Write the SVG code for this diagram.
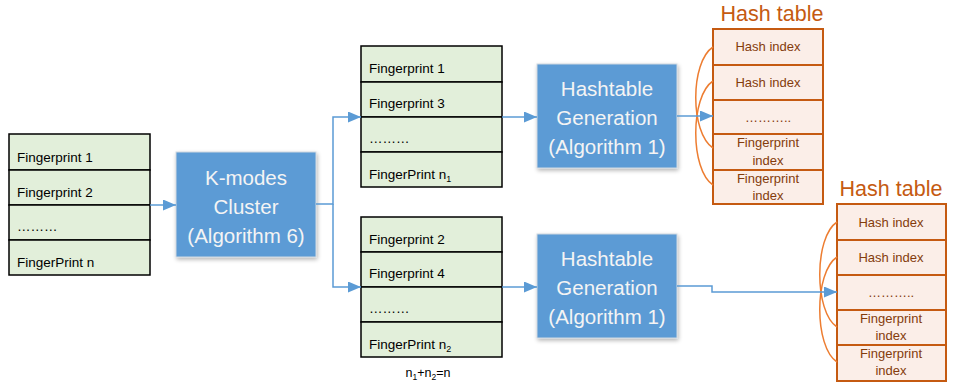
<svg xmlns="http://www.w3.org/2000/svg" width="953" height="386" viewBox="0 0 953 386">
  <defs>
    <marker id="arrow" viewBox="0 0 13 11" refX="13" refY="5.5" markerWidth="13" markerHeight="11" markerUnits="userSpaceOnUse" orient="auto">
      <path d="M0,0 L13,5.5 L0,11 Z" fill="#5B9BD5"/>
    </marker>
    <filter id="shadow" x="-10%" y="-10%" width="125%" height="130%">
      <feGaussianBlur in="SourceAlpha" stdDeviation="2"/>
      <feOffset dx="1" dy="2"/>
      <feComponentTransfer><feFuncA type="linear" slope="0.3"/></feComponentTransfer>
      <feMerge><feMergeNode/><feMergeNode in="SourceGraphic"/></feMerge>
    </filter>
  </defs>
  <style>
    .row { fill: #E2EFDA; stroke: #000; stroke-width: 1.5; }
    .rt { font-family: "Liberation Sans", Arial, sans-serif; font-size: 13.5px; fill: #000; }
    .proc { fill: #5B9BD5; stroke: #D0D8E0; stroke-width: 1; filter: url(#shadow); }
    .pt { font-family: "Liberation Sans", Arial, sans-serif; font-size: 20.5px; fill: #F4F4F4; text-anchor: middle; }
    .hrow { fill: #FBEEE8; stroke: #C55A11; stroke-width: 2; }
    .ht { font-family: "Liberation Sans", Arial, sans-serif; font-size: 13px; fill: #843C0C; text-anchor: middle; }
    .htitle { font-family: "Liberation Sans", Arial, sans-serif; font-size: 21.5px; fill: #C55A11; text-anchor: middle; }
    .arc { fill: none; stroke: #ED7D31; stroke-width: 1.5; }
    .conn { fill: none; stroke: #5B9BD5; stroke-width: 1.5; marker-end: url(#arrow); }
    .note { font-family: "Liberation Sans", Arial, sans-serif; font-size: 12.5px; fill: #000; text-anchor: middle; }
  </style>

  <!-- all fingerprints -->
  <g id="fingerprints-all">
    <rect class="row" x="9" y="134" width="141" height="36"/>
    <rect class="row" x="9" y="170" width="141" height="35"/>
    <rect class="row" x="9" y="205" width="141" height="35"/>
    <rect class="row" x="9" y="240" width="141" height="35"/>
    <text class="rt" x="17" y="162">Fingerprint 1</text>
    <text class="rt" x="17" y="197">Fingerprint 2</text>
    <text class="rt" x="17" y="231">………</text>
    <text class="rt" x="17" y="267">FingerPrint n</text>
  </g>

  <!-- clustering step -->
  <g id="kmodes">
    <rect class="proc" x="176" y="152" width="140" height="105"/>
    <text class="pt" x="246" y="185">K-modes</text>
    <text class="pt" x="246" y="214">Cluster</text>
    <text class="pt" x="246" y="243">(Algorithm 6)</text>
  </g>

  <!-- cluster 1 -->
  <g id="cluster1">
    <rect class="row" x="361" y="46" width="141" height="36"/>
    <rect class="row" x="361" y="82" width="141" height="35"/>
    <rect class="row" x="361" y="117" width="141" height="35"/>
    <rect class="row" x="361" y="152" width="141" height="35"/>
    <text class="rt" x="369" y="73">Fingerprint 1</text>
    <text class="rt" x="369" y="108">Fingerprint 3</text>
    <text class="rt" x="369" y="143">………</text>
    <text class="rt" x="369" y="179">FingerPrint n<tspan font-size="9" dy="3">1</tspan></text>
  </g>

  <!-- cluster 2 -->
  <g id="cluster2">
    <rect class="row" x="361" y="217" width="141" height="35"/>
    <rect class="row" x="361" y="252" width="141" height="35"/>
    <rect class="row" x="361" y="287" width="141" height="35"/>
    <rect class="row" x="361" y="322" width="141" height="35"/>
    <text class="rt" x="369" y="244">Fingerprint 2</text>
    <text class="rt" x="369" y="278">Fingerprint 4</text>
    <text class="rt" x="369" y="313">………</text>
    <text class="rt" x="369" y="349">FingerPrint n<tspan font-size="9" dy="3">2</tspan></text>
  </g>

  <text class="note" x="428" y="377">n<tspan font-size="8.5" dy="3">1</tspan><tspan dy="-3">+n</tspan><tspan font-size="8.5" dy="3">2</tspan><tspan dy="-3">=n</tspan></text>

  <!-- hashtable generation 1 -->
  <g id="hashgen1">
    <rect class="proc" x="537" y="64" width="140" height="104"/>
    <text class="pt" x="607" y="96">Hashtable</text>
    <text class="pt" x="607" y="125">Generation</text>
    <text class="pt" x="607" y="154">(Algorithm 1)</text>
  </g>

  <!-- hashtable generation 2 -->
  <g id="hashgen2">
    <rect class="proc" x="537" y="234" width="140" height="104"/>
    <text class="pt" x="607" y="266">Hashtable</text>
    <text class="pt" x="607" y="295">Generation</text>
    <text class="pt" x="607" y="324">(Algorithm 1)</text>
  </g>

  <!-- hash table 1 -->
  <g id="hashtable1">
    <text class="htitle" x="772" y="21">Hash table</text>
    <rect class="hrow" x="713" y="29" width="110" height="36"/>
    <rect class="hrow" x="713" y="65" width="110" height="35"/>
    <rect class="hrow" x="713" y="100" width="110" height="34"/>
    <rect class="hrow" x="713" y="134" width="110" height="36"/>
    <rect class="hrow" x="713" y="170" width="110" height="34"/>
    <text class="ht" x="768" y="51">Hash index</text>
    <text class="ht" x="768" y="87">Hash index</text>
    <text class="ht" x="768" y="122">………..</text>
    <text class="ht" x="768" y="147">Fingerprint</text>
    <text class="ht" x="768" y="165">index</text>
    <text class="ht" x="768" y="183">Fingerprint</text>
    <text class="ht" x="768" y="200">index</text>
    <path class="arc" d="M713,47 C690,62 690,133 713,148"/>
    <path class="arc" d="M713,81 C690,96 690,170 713,185"/>
  </g>

  <!-- hash table 2 -->
  <g id="hashtable2">
    <text class="htitle" x="891" y="196">Hash table</text>
    <rect class="hrow" x="837" y="204" width="109" height="36"/>
    <rect class="hrow" x="837" y="240" width="109" height="35"/>
    <rect class="hrow" x="837" y="275" width="109" height="35"/>
    <rect class="hrow" x="837" y="310" width="109" height="35"/>
    <rect class="hrow" x="837" y="345" width="109" height="36"/>
    <text class="ht" x="891" y="227">Hash index</text>
    <text class="ht" x="891" y="262">Hash index</text>
    <text class="ht" x="891" y="297">………..</text>
    <text class="ht" x="891" y="323">Fingerprint</text>
    <text class="ht" x="891" y="340">index</text>
    <text class="ht" x="891" y="358">Fingerprint</text>
    <text class="ht" x="891" y="375">index</text>
    <path class="arc" d="M837,222 C814,237 814,312 837,327"/>
    <path class="arc" d="M837,257 C814,272 814,347 837,362"/>
  </g>

  <!-- connectors -->
  <g id="connectors">
    <path class="conn" d="M150,205 L176,205"/>
    <path class="conn" d="M316,204 L333,204 L333,117 L361,117"/>
    <path class="conn" d="M333,204 L333,287 L361,287"/>
    <path class="conn" d="M502,117 L537,117"/>
    <path class="conn" d="M502,287 L537,287"/>
    <path class="conn" d="M677,116 L713,116"/>
    <path class="conn" d="M677,286 L712,286 L712,292 L837,292"/>
  </g>
</svg>
